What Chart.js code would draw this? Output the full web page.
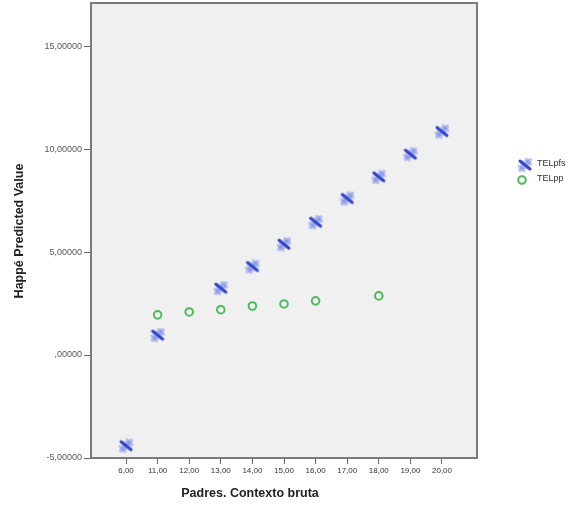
<!DOCTYPE html>
<html>
<head>
<meta charset="utf-8">
<script src="https://cdn.jsdelivr.net/npm/chart.js@4"></script>
<style>
html,body{margin:0;padding:0;background:#fff;}
#wrap{width:579px;height:508px;}
</style>
</head>
<body>
<div id="wrap"><canvas id="c" width="579" height="508"></canvas></div>
<script>
const categories = ["6,00","11,00","12,00","13,00","14,00","15,00","16,00","17,00","18,00","19,00","20,00"];
const telpfs = [-4.4, 0.97, null, 3.25, 4.3, 5.38, 6.45, 7.6, 8.65, 9.75, 10.85];
const telpp  = [null, 1.95, 2.09, 2.2, 2.38, 2.48, 2.63, null, 2.87, null, null];
const yTickValues = [-5, 0, 5, 10, 15];
const yTickLabels = ["-5,00000", ",00000", "5,00000", "10,00000", "15,00000"];
const seriesNames = ["TELpfs", "TELpp"];
const xTitle = "Padres. Contexto bruta";
const yTitle = "Happé Predicted Value";

function toPoints(vals){
  return vals.map((v,i)=>v===null?null:{x:i,y:v}).filter(p=>p!==null);
}

// custom marker for TELpfs
function makeMarker(){
  const c = document.createElement('canvas');
  c.width = 18; c.height = 18;
  const g = c.getContext('2d');
  g.translate(9,9);
  g.lineCap = 'round';
  g.strokeStyle = 'rgba(110,130,230,0.45)';
  g.lineWidth = 4;
  g.beginPath(); g.moveTo(-5,5); g.lineTo(5,-5); g.stroke();
  g.lineWidth = 3;
  g.beginPath(); g.moveTo(-6,1); g.lineTo(-1,6); g.stroke();
  g.beginPath(); g.moveTo(1,-6); g.lineTo(6,-1); g.stroke();
  g.fillStyle = 'rgba(110,130,230,0.35)';
  g.beginPath(); g.arc(0,0,5,0,Math.PI*2); g.fill();
  g.strokeStyle = '#3346c8';
  g.lineWidth = 3;
  g.beginPath(); g.moveTo(-5,-4); g.lineTo(5,4); g.stroke();
  return c;
}
const pfsMarker = makeMarker();
const ppColor = '#4bbb5c';

const framePlugin = {
  id: 'frame',
  beforeDraw(chart){
    const {ctx, chartArea:a} = chart;
    ctx.save();
    ctx.fillStyle = '#f0f0f0';
    ctx.fillRect(a.left, a.top, a.right-a.left, a.bottom-a.top);
    ctx.restore();
  },
  afterDraw(chart){
    const {ctx, chartArea:a} = chart;
    ctx.save();
    ctx.strokeStyle = '#7a7a7a';
    ctx.lineWidth = 2;
    ctx.strokeRect(a.left, a.top, a.right-a.left, a.bottom-a.top);
    // axis titles
    ctx.fillStyle = '#222';
    ctx.font = 'bold 12.5px "Liberation Sans", Arial, sans-serif';
    ctx.textAlign = 'center';
    ctx.textBaseline = 'middle';
    ctx.fillText(xTitle, 250, 494);
    ctx.save();
    ctx.translate(20, 231);
    ctx.rotate(-Math.PI/2);
    ctx.fillText(yTitle, 0, 0);
    ctx.restore();
    // legend
    ctx.drawImage(pfsMarker, 516, 156);
    ctx.beginPath();
    ctx.arc(522, 180, 3.8, 0, Math.PI*2);
    ctx.strokeStyle = ppColor; ctx.lineWidth = 2; ctx.stroke();
    ctx.fillStyle = '#333';
    ctx.font = '9px "Liberation Sans", Arial, sans-serif';
    ctx.textAlign = 'left';
    ctx.fillText(chart.data.datasets[0].label, 537, 164);
    ctx.fillText(chart.data.datasets[1].label, 537, 179);
    ctx.restore();
  }
};

new Chart(document.getElementById('c'), {
  type: 'scatter',
  data: {
    datasets: [
      { label: seriesNames[0], data: toPoints(telpfs), pointStyle: pfsMarker, pointRadius: 8, pointHoverRadius: 8 },
      { label: seriesNames[1], data: toPoints(telpp), pointStyle: 'circle', pointRadius: 3.8, pointHoverRadius: 3.8,
        borderColor: ppColor, backgroundColor: 'rgba(0,0,0,0)', borderWidth: 2 }
    ]
  },
  options: {
    responsive: false,
    animation: false,
    devicePixelRatio: 1,
    layout: { autoPadding: false, padding: { left: 0, top: 3, right: 102, bottom: 0 } },
    plugins: { legend: { display: false }, tooltip: { enabled: false } },
    scales: {
      x: {
        type: 'linear',
        min: -1.108, max: 11.108,
        afterBuildTicks(s){ s.ticks = categories.map((c,i)=>({value:i})); },
        afterFit(s){ s.height = 50; },
        ticks: {
          autoSkip: false, maxRotation: 0, padding: 2,
          color: '#333',
          font: { size: 8, family: '"Liberation Sans", Arial, sans-serif' },
          callback: (v)=>categories[v]
        },
        grid: { drawOnChartArea: false, tickLength: 6, tickColor: '#666', tickWidth: 1 },
        border: { display: true, color: '#6e6e6e', width: 2 }
      },
      y: {
        type: 'linear',
        min: -5, max: 17.09,
        afterBuildTicks(s){ s.ticks = yTickValues.map(v=>({value:v})); },
        afterFit(s){ s.width = 91; },
        ticks: {
          padding: 2,
          color: '#555',
          font: { size: 9, lineHeight: 0.2, family: '"Liberation Sans", Arial, sans-serif' },
          callback: (v)=>{ const i = yTickValues.indexOf(v); return i>=0 ? yTickLabels[i] : null; }
        },
        grid: { drawOnChartArea: false, tickLength: 7, tickWidth: 1, tickColor: '#666' },
        border: { display: true, color: '#6e6e6e', width: 2 }
      }
    }
  },
  plugins: [framePlugin]
});
</script>
</body>
</html>
